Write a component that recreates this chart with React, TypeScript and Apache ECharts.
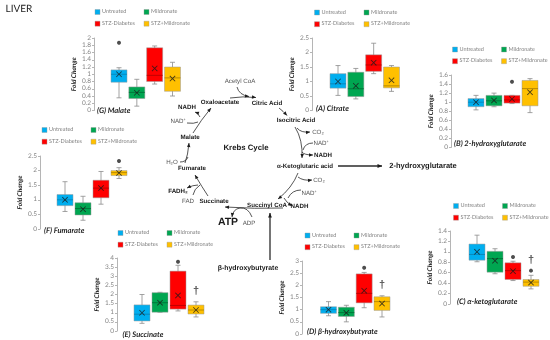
import React, { useEffect, useRef } from "react";
import * as echarts from "echarts";

const GROUPS = ["Untreated", "Mildronate", "STZ-Diabetes", "STZ+Mildronate"];
const FILLS = ["#00AEEF", "#00A651", "#FF0000", "#FFC000"];
const EDGES = ["#0A7FB0", "#006B35", "#B00000", "#A87E00"];
const UI = "Lato, 'Open Sans', sans-serif";
const ARIAL = "'Liberation Sans', Arial, sans-serif";

// [min, Q1, median, Q3, max] per group
const malateBoxes = [[0.35, 0.78, 1.0, 1.12, 1.18], [0.12, 0.33, 0.5, 0.65, 0.86], [0.73, 0.8, 0.97, 1.73, 1.78], [0.4, 0.53, 0.9, 1.2, 1.33]];
const malateMeans = [1.0, 0.49, 1.16, 0.88];
const fumarateBoxes = [[0.6, 0.8, 1.0, 1.18, 1.62], [0.3, 0.48, 0.7, 0.9, 1.12], [0.85, 1.07, 1.4, 1.67, 1.97], [1.73, 1.83, 1.93, 2.0, 2.1]];
const fumarateMeans = [1.0, 0.68, 1.4, 1.92];
const succinateBoxes = [[0.42, 0.55, 0.92, 1.43, 2.0], [1.03, 1.03, 1.55, 2.1, 2.12], [1.1, 1.2, 1.4, 3.28, 3.6], [0.77, 0.93, 1.15, 1.42, 1.6]];
const succinateMeans = [1.0, 1.55, 1.95, 1.15];
const citrateBoxes = [[0.52, 0.77, 0.92, 1.27, 1.55], [0.4, 0.48, 0.75, 1.32, 1.45], [1.27, 1.35, 1.57, 1.92, 2.32], [0.66, 0.78, 0.85, 1.5, 1.55]];
const citrateMeans = [1.0, 0.85, 1.65, 1.04];
const hydroxyglutarateBoxes = [[0.83, 0.9, 1.0, 1.08, 1.15], [0.9, 0.92, 1.03, 1.15, 1.2], [0.97, 0.98, 1.05, 1.15, 1.15], [0.77, 0.92, 1.3, 1.48, 1.52]];
const hydroxyglutarateMeans = [1.0, 1.04, 1.07, 1.22];
const ketoglutarateBoxes = [[0.81, 0.84, 0.95, 1.15, 1.32], [0.58, 0.61, 0.87, 1.01, 1.06], [0.45, 0.47, 0.64, 0.79, 0.82], [0.29, 0.34, 0.42, 0.47, 0.55]];
const ketoglutarateMeans = [1.0, 0.83, 0.63, 0.41];
const hydroxybutyrateBoxes = [[0.75, 0.85, 1.0, 1.12, 1.33], [0.5, 0.72, 0.88, 1.1, 1.18], [1.08, 1.28, 1.67, 2.47, 2.53], [0.7, 0.97, 1.33, 1.53, 1.57]];
const hydroxybutyrateMeans = [1.0, 0.87, 1.78, 1.25];

const PANELS = [
  { title: "(G) Malate", boxes: malateBoxes, means: malateMeans, stars: [[0, 1.87]], daggers: [], max: 2, step: 0.2, axisX: 94, c1: 119, c4: 172.5, top: 38, bottom: 110.5, nameGap: 15, titleX: 97, titleY: 110, legX: 95, legDx: 49, legY: 12 },
  { title: "(F) Fumarate", boxes: fumarateBoxes, means: fumarateMeans, stars: [[3, 2.33]], daggers: [], max: 2.5, step: 0.5, axisX: 40, c1: 65, c4: 119, top: 156, bottom: 229, nameGap: 13, titleX: 44, titleY: 229.5, legX: 42, legDx: 49, legY: 130 },
  { title: "(E) Succinate", boxes: succinateBoxes, means: succinateMeans, stars: [[2, 3.8]], daggers: [[3, 2.2]], max: 4, step: 0.5, axisX: 117, c1: 142, c4: 196, top: 258, bottom: 331, nameGap: 15, titleX: 122.5, titleY: 333.5, legX: 118, legDx: 49, legY: 233 },
  { title: "(A) Citrate", boxes: citrateBoxes, means: citrateMeans, stars: [], daggers: [], max: 2.5, step: 0.5, axisX: 312, c1: 338, c4: 391.5, top: 38, bottom: 110.5, nameGap: 13, titleX: 316, titleY: 108, legX: 314.5, legDx: 49.5, legY: 12.5 },
  { title: "(B) 2-hydroxyglutarate", boxes: hydroxyglutarateBoxes, means: hydroxyglutarateMeans, stars: [[2, 1.45]], daggers: [], max: 1.6, step: 0.2, axisX: 451, c1: 476, c4: 530, top: 75, bottom: 147.5, nameGap: 15, titleX: 454, titleY: 143, legX: 452.5, legDx: 49, legY: 49.5 },
  { title: "(C) α-ketoglutarate", boxes: ketoglutarateBoxes, means: ketoglutarateMeans, stars: [[2, 0.9], [3, 0.64]], daggers: [[3, 0.85]], max: 1.4, step: 0.2, axisX: 450, c1: 477, c4: 531, top: 231, bottom: 304, nameGap: 13, titleX: 457, titleY: 301, legX: 453.5, legDx: 49, legY: 206 },
  { title: "(D) β-hydroxybutyrate", boxes: hydroxybutyrateBoxes, means: hydroxybutyrateMeans, stars: [[2, 2.72]], daggers: [[3, 2.0]], max: 3, step: 0.5, axisX: 302, c1: 328.5, c4: 382, top: 261, bottom: 334, nameGap: 15, titleX: 307, titleY: 331, legX: 305, legDx: 49, legY: 235.5 },
];

// [text, centreX, centreY, bold, size]
const PATHWAY_LABELS: [string, number, number, boolean, number][] = [
  ["Acetyl CoA", 240, 81, false, 6.2],
  ["Oxaloacetate", 220, 102, true, 6.2],
  ["Citric Acid", 267, 103, true, 6.2],
  ["NADH", 187, 107, true, 6.2],
  ["NAD⁺", 178, 121, false, 6.2],
  ["Malate", 190, 137, true, 6.2],
  ["Krebs Cycle", 246, 147, true, 7.8],
  ["H₂O", 172, 162, false, 6.2],
  ["Fumarate", 192, 168, true, 6.2],
  ["FADH₂", 178, 191, true, 6.2],
  ["FAD", 188, 201, false, 6.2],
  ["Succinate", 214, 201, true, 6.2],
  ["Succinyl CoA", 267, 205, true, 6.2],
  ["ATP", 228, 222, true, 10.5],
  ["ADP", 249, 223, false, 6.2],
  ["β-hydroxybutyrate", 248, 268, true, 6.9],
  ["Isocitric Acid", 296, 120, true, 6.2],
  ["CO₂", 318, 132, false, 6.2],
  ["NAD⁺", 321, 143, false, 6.2],
  ["NADH", 323, 155, true, 6.2],
  ["α-Ketoglutaric acid", 305, 166, true, 6.2],
  ["2-hydroxyglutarate", 423, 165, true, 7.5],
  ["CO₂", 319, 180, false, 6.2],
  ["NAD⁺", 309, 193, false, 6.2],
  ["NADH", 299.5, 206, true, 6.2],
];

// [x1, y1, ctrlX, ctrlY, x2, y2, lineWidth, hasHead]
const PATHWAY_ARROWS: [number, number, number, number, number, number, number, boolean][] = [
  [230, 98, 243, 96, 256, 97.5, 0.8, true],
  [237, 87, 239, 95, 249, 96.5, 0.8, true],
  [279, 108, 283, 111, 287, 115.5, 0.8, true],
  [295, 127, 303, 140, 302, 158, 0.8, true],
  [297, 128, 301, 133, 310, 132, 0.8, true],
  [313, 143, 305, 143, 303, 150, 0.8, false],
  [302, 152, 304, 155, 313, 155, 0.8, true],
  [338, 166, 360, 166, 382, 166, 1.3, true],
  [298, 173, 292, 188, 278, 199, 0.8, true],
  [298, 177, 303, 181, 312, 180, 0.8, true],
  [301, 190, 292, 190, 288, 198, 0.8, false],
  [284, 198, 286, 202, 292, 206, 0.8, true],
  [283, 208, 255, 209, 225, 207, 0.8, true],
  [252, 217, 248, 207, 240, 208, 0.8, false],
  [240, 208, 233, 209, 232, 217, 0.8, true],
  [270, 260, 270, 236, 270, 213, 1.3, true],
  [208, 196, 202, 187, 195, 175, 0.8, true],
  [198, 185, 193, 185, 187, 188, 0.8, true],
  [193, 195, 194, 189, 200, 185, 0.8, false],
  [180, 162, 186, 162, 188, 157, 0.8, false],
  [185, 163, 188, 155, 189, 143, 0.8, true],
  [193, 133, 201, 120, 211, 108, 0.8, true],
  [200, 117, 198, 113, 195, 112, 0.8, true],
  [187, 123, 194, 124, 198, 122, 0.8, false],
];

function arrowGraphics() {
  const out: any[] = [];
  for (const [x1, y1, cx, cy, x2, y2, w, head] of PATHWAY_ARROWS) {
    out.push({
      type: "bezierCurve", silent: true,
      shape: { x1, y1, x2, y2, cpx1: cx, cpy1: cy },
      style: { stroke: "#2b2b2b", lineWidth: w, fill: "none" },
    });
    if (head) {
      const a = Math.atan2(y2 - cy, x2 - cx);
      const L = 3.2 + w, W = 1.4 + w * 0.4;
      const bx = x2 - L * Math.cos(a), by = y2 - L * Math.sin(a);
      out.push({
        type: "polygon", silent: true,
        shape: { points: [[x2, y2], [bx - W * Math.sin(a), by + W * Math.cos(a)], [bx + W * Math.sin(a), by - W * Math.cos(a)]] },
        style: { fill: "#1c1c1c" },
      });
    }
  }
  return out;
}

function textEl(text: string, x: number, y: number, size: number, opts: any = {}) {
  return {
    type: "text", silent: true, x, y,
    style: {
      text, fontSize: size, fontFamily: opts.family || ARIAL,
      fontWeight: opts.weight || "normal", fontStyle: opts.italic ? "italic" : "normal",
      fill: opts.fill || "#222", align: opts.align || "center", verticalAlign: "middle",
    },
  };
}

function buildOption() {
  const grid: any[] = [], xAxis: any[] = [], yAxis: any[] = [], series: any[] = [], graphic: any[] = [];
  PANELS.forEach((p, i) => {
    const band = (p.c4 - p.c1) / 3;
    const left = p.c1 - band / 2;
    grid.push({ left, width: band * 4, top: p.top, height: p.bottom - p.top });
    xAxis.push({ type: "category", gridIndex: i, data: GROUPS, show: false, boundaryGap: true });
    yAxis.push({
      type: "value", gridIndex: i, min: 0, max: p.max, interval: p.step,
      offset: left - p.axisX, splitLine: { show: false },
      axisLine: { show: true, lineStyle: { color: "#b5b5b5", width: 1 } },
      axisTick: { show: true, length: 2, inside: false, lineStyle: { color: "#b5b5b5" } },
      axisLabel: { color: "#858585", fontSize: 6.5, fontFamily: UI, margin: 3 },
      name: "Fold Change", nameLocation: "middle", nameGap: p.nameGap, nameRotate: 90,
      nameTextStyle: { color: "#222", fontSize: 6.5, fontFamily: UI, fontWeight: "bold", fontStyle: "italic" },
    });
    series.push({
      type: "custom", name: p.title, xAxisIndex: i, yAxisIndex: i, silent: true,
      encode: { x: 0, y: [1, 2, 3, 4, 5] },
      data: p.boxes.map((b, k) => [k, ...b]),
      renderItem: (params: any, api: any) => {
        const k = api.value(0);
        const [cx, yMin] = api.coord([k, api.value(1)]);
        const yQ1 = api.coord([k, api.value(2)])[1];
        const yMed = api.coord([k, api.value(3)])[1];
        const yQ3 = api.coord([k, api.value(4)])[1];
        const yMax = api.coord([k, api.value(5)])[1];
        const c = params.dataIndex;
        const hw = 8, cap = 2.5;
        const whisk = { stroke: "#8c8c8c", lineWidth: 0.8 };
        const edge = { stroke: EDGES[c], lineWidth: 0.8 };
        return {
          type: "group",
          children: [
            { type: "line", shape: { x1: cx, y1: yMax, x2: cx, y2: yMin }, style: whisk },
            { type: "line", shape: { x1: cx - cap, y1: yMax, x2: cx + cap, y2: yMax }, style: whisk },
            { type: "line", shape: { x1: cx - cap, y1: yMin, x2: cx + cap, y2: yMin }, style: whisk },
            { type: "rect", shape: { x: cx - hw, y: yQ3, width: 2 * hw, height: yQ1 - yQ3 }, style: { fill: FILLS[c], stroke: "#9a9a9a", lineWidth: 0.5 } },
            { type: "line", shape: { x1: cx - hw, y1: yMed, x2: cx + hw, y2: yMed }, style: edge },
          ],
        };
      },
      z: 2,
    });
    series.push({
      type: "scatter", name: "Mean", xAxisIndex: i, yAxisIndex: i, silent: true,
      symbol: "path://M0 1L1 0L5 4L9 0L10 1L6 5L10 9L9 10L5 6L1 10L0 9L4 5Z", symbolSize: 6,
      itemStyle: { color: "#1a1a1a" }, data: p.means.map((m, k) => [k, m]), z: 3,
    });
    if (p.stars.length) series.push({
      type: "scatter", name: "Significant", xAxisIndex: i, yAxisIndex: i, silent: true,
      symbol: "circle", symbolSize: 4, itemStyle: { color: "#222" }, data: p.stars, z: 3,
    });
    if (p.daggers.length) series.push({
      type: "scatter", name: "Dagger", xAxisIndex: i, yAxisIndex: i, silent: true,
      symbol: "circle", symbolSize: 0.5, itemStyle: { color: "#222" }, data: p.daggers,
      label: { show: true, position: "inside", formatter: "†", color: "#222", fontSize: 11, fontWeight: "bold", fontFamily: ARIAL },
      z: 3,
    });
    graphic.push(textEl(p.title, p.titleX, p.titleY, 7.6, { family: UI, weight: "bold", italic: true, align: "left", fill: "#1f1f1f" }));
    GROUPS.forEach((g, k) => {
      const lx = p.legX + (k % 2) * p.legDx, ly = p.legY + (k >> 1) * 11.7;
      graphic.push({ type: "rect", silent: true, shape: { x: lx, y: ly - 2.5, width: 5, height: 5 }, style: { fill: FILLS[k], stroke: "#9a9a9a", lineWidth: 0.4 } });
      graphic.push(textEl(g, lx + 7, ly, 5.5, { family: UI, fill: "#808080", align: "left" }));
    });
  });
  graphic.push(textEl("LIVER", 5.5, 9, 10, { family: UI, align: "left", fill: "#222" }));
  PATHWAY_LABELS.forEach(([t, x, y, b, s]) =>
    graphic.push(textEl(t, x, y, s, { weight: b ? "bold" : "normal", fill: b ? "#1a1a1a" : "#555" })));
  graphic.push(...arrowGraphics());
  return { animation: false, backgroundColor: "#fff", grid, xAxis, yAxis, series, graphic, tooltip: { show: false } };
}

export default function App() {
  const ref = useRef<HTMLDivElement>(null);
  useEffect(() => {
    document.body.style.margin = "0";
    const chart = echarts.init(ref.current!, undefined, { renderer: "svg", width: 550, height: 340 });
    chart.setOption(buildOption() as any);
    return () => chart.dispose();
  }, []);
  return <div ref={ref} style={{ width: 550, height: 340, textRendering: "geometricPrecision", filter: "blur(0.3px)" }} />;
}
